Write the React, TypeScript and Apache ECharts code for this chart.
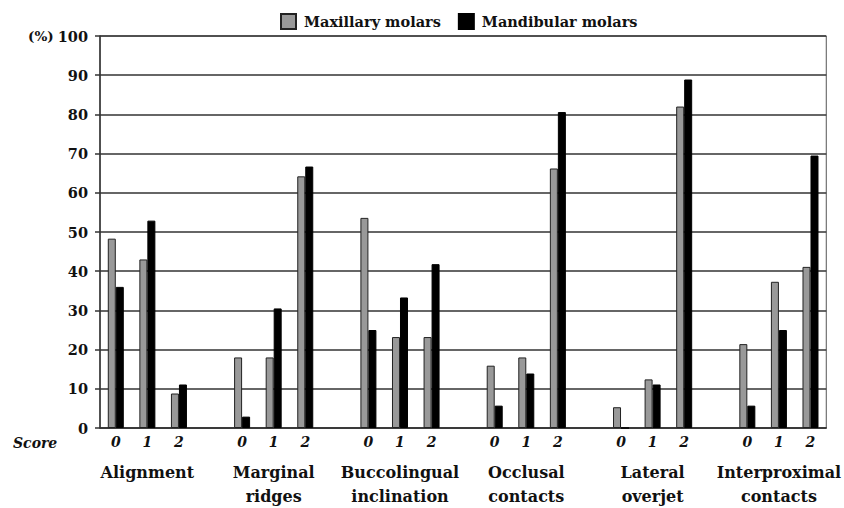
import React, { useEffect, useRef } from "react";
import * as echarts from "echarts";

const groups = [
  "Alignment",
  "Marginal\nridges",
  "Buccolingual\ninclination",
  "Occlusal\ncontacts",
  "Lateral\noverjet",
  "Interproximal\ncontacts",
];
const scores = ["0", "1", "2"];
const seriesNames = ["Maxillary molars", "Mandibular molars"];
// values per group, scores 0,1,2
const maxillary = [
  [48.3, 43.0, 8.8],
  [18.0, 18.0, 64.2],
  [53.6, 23.2, 23.2],
  [15.9, 18.0, 66.2],
  [5.3, 12.4, 82.0],
  [21.4, 37.3, 41.1],
];
const mandibular = [
  [36.0, 52.9, 11.1],
  [2.9, 30.5, 66.7],
  [25.0, 33.3, 41.8],
  [5.7, 13.9, 80.6],
  [0, 11.1, 88.9],
  [5.7, 25.0, 69.5],
];
const yTicks = { min: 0, max: 100, interval: 10 };

const FONT = "DejaVu Serif, Liberation Serif, serif";

export default function App() {
  const ref = useRef<HTMLDivElement>(null);
  useEffect(() => {
    document.body.style.margin = "0";
    if (!ref.current) return;
    const chart = echarts.init(ref.current, undefined, { renderer: "svg" });

    const cats: string[] = [];
    const groupLabels: string[] = [];
    const maxData: (number | null)[] = [];
    const mandData: (number | null)[] = [];
    groups.forEach((g, gi) => {
      scores.forEach((s, si) => {
        cats.push(gi + "|" + s);
        groupLabels.push(si === 1 ? g : "");
        maxData.push(maxillary[gi][si]);
        mandData.push(mandibular[gi][si]);
      });
      if (gi < groups.length - 1) {
        cats.push("gap" + gi);
        groupLabels.push("");
        maxData.push(null);
        mandData.push(null);
      }
    });

    chart.setOption({
      animation: false,
      backgroundColor: "#fff",
      textStyle: { fontFamily: FONT },
      legend: {
        left: 280,
        top: 13,
        padding: 0,
        icon: "rect",
        itemWidth: 15,
        itemHeight: 15,
        itemGap: 17,
        textStyle: {
          fontFamily: FONT,
          fontSize: 14.5,
          fontWeight: "bold",
          color: "#111",
          padding: [0, 0, 0, 3],
        },
        data: seriesNames,
      },
      grid: {
        left: 100,
        right: 12,
        top: 36,
        bottom: 79,
        show: true,
        borderColor: "#555",
        borderWidth: 1,
      },
      xAxis: [
        {
          type: "category",
          data: cats,
          axisLine: { show: true, lineStyle: { color: "#333", width: 1.5 } },
          axisTick: { show: false },
          axisLabel: {
            interval: 0,
            margin: 7,
            fontFamily: FONT,
            fontSize: 14,
            fontWeight: "bold",
            fontStyle: "italic",
            color: "#111",
            formatter: (v: string) => (v.indexOf("|") >= 0 ? v.split("|")[1] : ""),
          },
        },
        {
          type: "category",
          data: cats,
          position: "bottom",
          axisLine: { show: false },
          axisTick: { show: false },
          axisLabel: {
            interval: 0,
            margin: 32,
            fontFamily: FONT,
            fontSize: 16,
            fontWeight: "bold",
            color: "#111",
            lineHeight: 24,
            formatter: (v: string) => {
              const i = cats.indexOf(v);
              return groupLabels[i] || "";
            },
          },
        },
      ],
      yAxis: {
        type: "value",
        min: yTicks.min,
        max: yTicks.max,
        interval: yTicks.interval,
        axisLine: { show: true, lineStyle: { color: "#333", width: 1.5 } },
        axisTick: { show: true, length: 5, lineStyle: { color: "#333", width: 1.5 } },
        axisLabel: {
          margin: 12,
          fontFamily: FONT,
          fontSize: 14.5,
          fontWeight: "bold",
          color: "#111",
        },
        splitLine: { show: true, lineStyle: { color: "#333", width: 1.5 } },
      },
      graphic: [
        {
          type: "text",
          left: 28,
          top: 29,
          style: {
            text: "(%)",
            fontFamily: FONT,
            fontSize: 13.5,
            fontWeight: "bold",
            fill: "#111",
          },
        },
        {
          type: "text",
          left: 13,
          top: 436,
          style: {
            text: "Score",
            fontFamily: FONT,
            fontSize: 14,
            fontWeight: "bold",
            fontStyle: "italic",
            fill: "#111",
          },
        },
      ],
      series: [
        {
          name: seriesNames[0],
          type: "bar",
          data: maxData,
          barWidth: 8,
          barGap: "0%",
          itemStyle: { color: "#999999", borderColor: "#222", borderWidth: 1 },
        },
        {
          name: seriesNames[1],
          type: "bar",
          data: mandData,
          barWidth: 8,
          barGap: "0%",
          itemStyle: { color: "#000000", borderColor: "#000", borderWidth: 1 },
        },
      ],
    });
    return () => chart.dispose();
  }, []);
  return <div ref={ref} style={{ width: 844, height: 508 }} />;
}
